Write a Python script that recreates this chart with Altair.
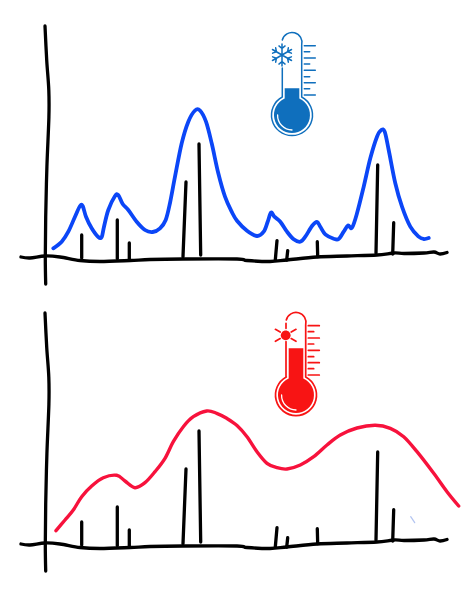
import math
import altair as alt
import pandas as pd

# Hand-drawn horizontal axis: position, height above the baseline
axis_x = [21, 30, 45, 60, 80, 100, 130, 150, 183, 237, 247, 270, 287, 317, 347, 377, 394, 404, 424, 434, 440, 447]
axis_h = [1, 0, 2, 1, -2.5, -3.5, -2.5, -1.5, -1, -1, -2.5, -3.5, -2, 1, 2, 3, 5, 4.5, 5, 6, 4, 5.5]

# Hand-drawn vertical axis
yaxis_x = [45, 46.7, 48.8, 48.9, 46.9, 45.7, 45.3, 45.7]
yaxis_h = [232, 198, 168, 141, 91, 41, 1, -26]

# Vertical spikes: foot and tip of each stroke
spike_x = [81.7, 117.3, 129.3, 183, 200.7, 275.3, 286.7, 317.7, 376, 392.7]
spike_x2 = [81.7, 117.3, 129.3, 186, 199, 277, 287.7, 317.3, 377.7, 393.7]
spike_h = [0, -0.5, -0.5, 1.3, 3, -2, -2, 1.3, 5, 4]
spike_h2 = [23, 38, 15, 76, 114, 17.3, 7.3, 16.3, 93, 35.3]

# Blue curve
blue_x = [53.3, 61.7, 68.3, 75, 80, 82.7, 86, 91.7, 98.3, 101.7, 104, 108.3, 115, 118.3, 122.7, 128.3, 136.7,
          145, 152.7, 160, 165.7, 170, 175, 181.7, 188.3, 195, 200, 206, 211.7, 218.3, 225, 231.7, 237, 247,
          257, 263.7, 267.7, 271, 274.3, 280.3, 287, 293.7, 300.3, 305.3, 312, 317, 320.3, 325.3, 333.7, 338.7,
          343.7, 348, 352, 357, 363.7, 370.3, 377, 381.3, 384.7, 388.7, 395.3, 402, 410.3, 418.7, 423.7, 428.7]
blue_h = [9.7, 16.3, 26.3, 41.3, 52, 52, 41.3, 29.7, 21, 21, 31.3, 48, 62, 63, 54, 48, 36.3,
          28, 26, 29.7, 38, 55, 81.3, 114.7, 136.3, 147.5, 147.5, 136.3, 114.7, 84.7, 61.3, 46.3, 37.3, 27.3,
          22, 26.3, 36.3, 45.5, 41.3, 36.3, 26.3, 18.7, 16.3, 21.3, 32, 36, 31.3, 23.7, 19.3, 19,
          26.3, 32.5, 30.3, 44.7, 71.3, 99.7, 121.3, 128, 126.3, 108, 74.7, 51.3, 31.3, 21.3, 19, 20]

# Red curve
red_x = [56, 65, 73.3, 81.7, 91.7, 103.3, 116.7, 125, 135, 145, 155, 165, 173.3, 183.3, 193.3, 206.7, 216.7,
         226.7, 237, 247, 257, 267, 277, 287, 300.3, 313.7, 327, 340.3, 357, 375.3, 390.3, 403.7, 417, 433.7,
         447, 458.7]
red_h = [14.3, 25, 35, 48.3, 59, 67.3, 69.7, 64, 57.3, 62.3, 73.3, 86.7, 103.3, 118.3, 128.3, 134, 131.7,
         126.7, 119.5, 108.3, 93.3, 81.7, 77.3, 76, 80, 88.3, 100, 110, 117, 119.7, 116.7, 108.3, 93.3, 71.7,
         53.3, 39]

# Stray speck in the lower panel
speck_x, speck_x2, speck_h, speck_h2 = [410.7], [414.7], [28.3], [22.3]

X_DOMAIN = [8, 466]
Y_DOMAIN = [-37, 250]
WIDTH, HEIGHT = 458, 287

BLACK = "#000000"
BLUE_LINE = "#0b46f7"
RED_LINE = "#f7123c"
BLUE_ICON = "#0f6fbd"
RED_ICON = "#f81414"


def seg(x0, y0, x1, y1):
    return f"M{x0:.2f},{y0:.2f}L{x1:.2f},{y1:.2f}"


TICKS = "".join(
    seg(12.3, y, 23.3 if i % 2 == 0 else 17.7, y)
    for i, y in enumerate([-69.3, -63.3, -57, -51, -44.7, -38.3, -32.3, -26.3, -20])
)
RING = "M9.7,-18L9.7,-70A9.7,9.7 0 0 0 -9.7,-75M9.7,-18A20.5,20.5 0 1 1 -9.7,-18"
FILL_BODY = "M-7.3,{top}L7.3,{top}L7.3,-16.5A18,18 0 1 1 -7.3,-16.5Z"
SHINE = "M-14.4,0A14.6,14.6 0 0 0 0,15"

cx, cy = -10, -60
snow = ""
for k in range(6):
    a = math.radians(60 * k + 90)
    snow += seg(cx, cy, cx + 11 * math.cos(a), cy - 11 * math.sin(a))
    bx, by = cx + 6.5 * math.cos(a), cy - 6.5 * math.sin(a)
    for d in (-50, 50):
        b = a + math.radians(d)
        snow += seg(bx, by, bx + 4 * math.cos(b), by - 4 * math.sin(b))
BLUE_STROKE = RING + "M-9.7,-47L-9.7,-18" + TICKS + snow

sun_rays = "".join(
    seg(-10.3 + sx * 5.5, -59.7 + sy * 3.3, -10.3 + sx * 10.3, -59.7 + sy * 6)
    for sx in (-1, 1) for sy in (-1, 1)
)
RED_STROKE = RING + "M-10,-71.7L-10,-66.7M-10,-53.3L-10,-18" + TICKS + sun_rays
SUN = "M-5.4,-59.7A4.9,4.9 0 1 1 -15.2,-59.7A4.9,4.9 0 1 1 -5.4,-59.7Z"

x_q = lambda f: alt.X(f, type="quantitative", scale=alt.Scale(domain=X_DOMAIN, nice=False, zero=False), axis=None)
y_q = lambda f: alt.Y(f, type="quantitative", scale=alt.Scale(domain=Y_DOMAIN, nice=False, zero=False), axis=None)


def line(xs, hs, color, width, interp="cardinal"):
    return (
        alt.Chart(pd.DataFrame({"x": xs, "h": hs, "o": range(len(xs))}))
        .mark_line(color=color, strokeWidth=width, strokeCap="round", strokeJoin="round", interpolate=interp)
        .encode(x=x_q("x"), y=y_q("h"), order="o:Q")
    )


def rules(xs, x2s, hs, h2s, color, width, opacity=1):
    return (
        alt.Chart(pd.DataFrame({"x": xs, "x2": x2s, "h": hs, "h2": h2s}))
        .mark_rule(color=color, strokeWidth=width, strokeCap="round", opacity=opacity)
        .encode(x=x_q("x"), x2="x2:Q", y=y_q("h"), y2="h2:Q")
    )


def icon(x, h, path, color, width=0, filled=False):
    data = pd.DataFrame({"x": [x], "h": [h]})
    if filled:
        mark = alt.Chart(data).mark_point(shape=path, size=4, filled=True, color=color, opacity=1, strokeWidth=0)
    else:
        mark = alt.Chart(data).mark_point(shape=path, size=4, filled=False, color=color, opacity=1,
                                          strokeWidth=width, strokeCap="round")
    return mark.encode(x=x_q("x"), y=y_q("h"))


def panel(curve_x, curve_h, curve_color, curve_width, extras):
    return alt.layer(
        line(axis_x, axis_h, BLACK, 3.3),
        line(yaxis_x, yaxis_h, BLACK, 3.3),
        rules(spike_x, spike_x2, spike_h, spike_h2, BLACK, 3.3),
        line(curve_x, curve_h, curve_color, curve_width),
        *extras,
    ).properties(width=WIDTH, height=HEIGHT)


top = panel(blue_x, blue_h, BLUE_LINE, 3.8, [
    icon(292, 143, BLUE_STROKE, BLUE_ICON, width=1.5),
    icon(292, 143, FILL_BODY.format(top=-26.7), BLUE_ICON, filled=True),
    icon(292, 143, SHINE, "#ffffff", width=1.3),
])
bottom = panel(red_x, red_h, RED_LINE, 3.4, [
    rules(speck_x, speck_x2, speck_h, speck_h2, "#9db4ee", 1.2, 0.8),
    icon(296, 150, RED_STROKE, RED_ICON, width=1.7),
    icon(296, 150, FILL_BODY.format(top=-46.7), RED_ICON, filled=True),
    icon(296, 150, SUN, RED_ICON, filled=True),
    icon(296, 150, SHINE, "#ffffff", width=1.3),
])

chart = (
    alt.vconcat(top, bottom, spacing=0, padding=0, background="#ffffff")
    .configure_view(stroke=None)
)
chart.save("out.html", embed_options={"renderer": "svg", "actions": False})
